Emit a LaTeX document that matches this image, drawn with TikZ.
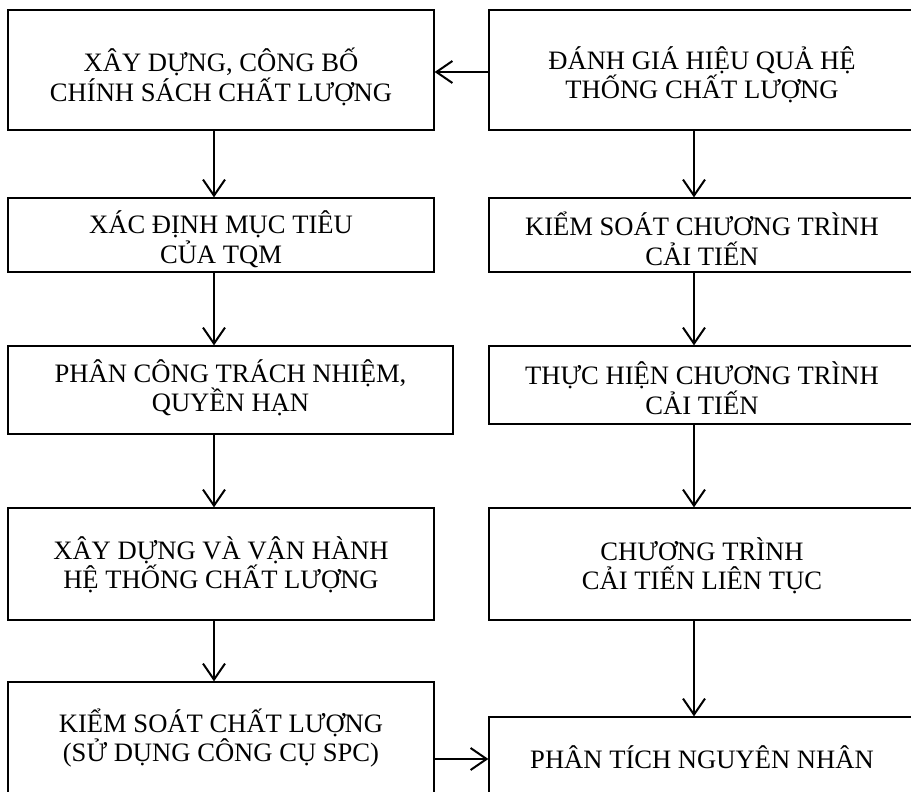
\documentclass[tikz,border=0pt]{standalone}
\usepackage{fontspec}
\setmainfont{Liberation Serif}
\usetikzlibrary{arrows.meta}
\begin{document}
\begin{tikzpicture}[x=1pt,y=-1pt,
  box/.style={draw=black, line width=1.3pt, inner sep=0pt, minimum width=426pt},
  txt/.style={inner sep=0pt, align=center, font=\fontsize{26.6}{29.5}\selectfont},
  arr/.style={line width=2pt, -{Straight Barb[length=16pt,width=22pt,line width=2pt]}}]
\useasboundingbox (0,0) rectangle (911,792);
\clip (0,0) rectangle (911,792);
\fill[white] (0,0) rectangle (911,792);

% left column boxes
\node[box, minimum height=120pt] (b1) at (221,70) {};
\node[box, minimum height=74pt] (b2) at (221,235) {};
\node[box, minimum height=88pt, minimum width=445pt] (b3) at (230.5,390) {};
\node[box, minimum height=112pt] (b4) at (221,564) {};
\node[box, minimum height=112pt] (b5) at (221,738) {};

% right column boxes
\node[box, minimum height=120pt] (r1) at (702,70) {};
\node[box, minimum height=74pt] (r2) at (702,235) {};
\node[box, minimum height=78pt] (r3) at (702,385) {};
\node[box, minimum height=112pt] (r4) at (702,564) {};
\node[box, minimum height=84pt] (r5) at (702,759) {};

% box labels
\node[txt] (tb1) at ([yshift=-7pt]b1.center) {XÂY DỰNG, CÔNG BỐ\\CHÍNH SÁCH CHẤT LƯỢNG};
\node[txt] (tb2) at ([yshift=-4pt]b2.center) {XÁC ĐỊNH MỤC TIÊU\\CỦA TQM};
\node[txt] (tb3) at ([yshift=2pt]b3.center) {PHÂN CÔNG TRÁCH NHIỆM,\\QUYỀN HẠN};
\node[txt] (tb4) at ([yshift=-1pt]b4.center) {XÂY DỰNG VÀ VẬN HÀNH\\HỆ THỐNG CHẤT LƯỢNG};
\node[txt] (tb5) at (b5.center) {KIỂM SOÁT CHẤT LƯỢNG\\(SỬ DỤNG CÔNG CỤ SPC)};
\node[txt] (tr1) at ([yshift=-5pt]r1.center) {ĐÁNH GIÁ HIỆU QUẢ HỆ\\THỐNG CHẤT LƯỢNG};
\node[txt] (tr2) at ([yshift=-4pt]r2.center) {KIỂM SOÁT CHƯƠNG TRÌNH\\CẢI TIẾN};
\node[txt] (tr3) at ([yshift=-3pt]r3.center) {THỰC HIỆN CHƯƠNG TRÌNH\\CẢI TIẾN};
\node[txt] (tr4) at ([yshift=-2pt]r4.center) {CHƯƠNG TRÌNH\\CẢI TIẾN LIÊN TỤC};
\node[txt] (tr5) at ([yshift=2pt]r5.center) {PHÂN TÍCH NGUYÊN NHÂN};

% arrow columns
\coordinate (colL) at (214,0);
\coordinate (colR) at (694,0);

\draw[arr] (b1.south -| colL) -- (b2.north -| colL);
\draw[arr] (b2.south -| colL) -- (b3.north -| colL);
\draw[arr] (b3.south -| colL) -- (b4.north -| colL);
\draw[arr] (b4.south -| colL) -- (b5.north -| colL);

\draw[arr] (r1.south -| colR) -- (r2.north -| colR);
\draw[arr] (r2.south -| colR) -- (r3.north -| colR);
\draw[arr] (r3.south -| colR) -- (r4.north -| colR);
\draw[arr] (r4.south -| colR) -- (r5.north -| colR);

\draw[arr] ([yshift=-2pt]r1.west) -- ([yshift=-2pt]r1.west -| b1.east);
\draw[arr] (r5.west -| b5.east) -- (r5.west);
\end{tikzpicture}
\end{document}
